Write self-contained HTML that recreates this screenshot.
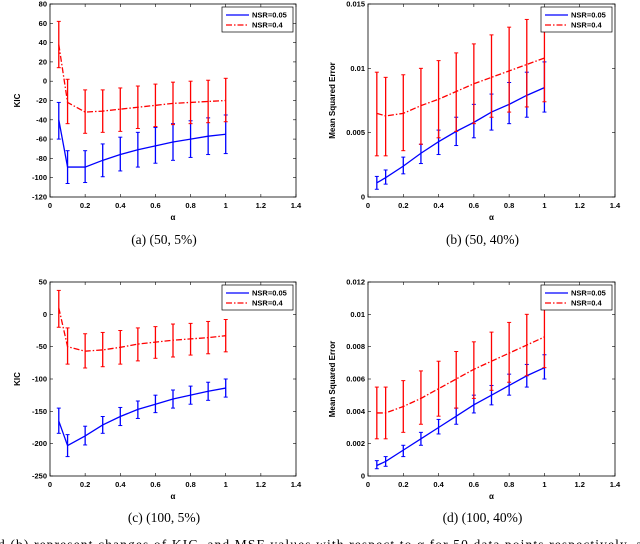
<!DOCTYPE html>
<html><head><meta charset="utf-8"><style>
html,body{margin:0;padding:0;background:#fff;width:640px;height:544px;overflow:hidden}
svg{display:block}
text{font-family:"Liberation Sans",Arial,sans-serif}
.cap{font-family:"Liberation Serif",serif;font-size:13.5px}
</style></head><body>
<svg id="fig" width="640" height="544" viewBox="0 0 640 544"></svg>
<script>
const alphas=[0.05,0.1,0.2,0.3,0.4,0.5,0.6,0.7,0.8,0.9,1.0];
const xTicks=[0,0.2,0.4,0.6,0.8,1,1.2,1.4];
const xTickLabels=['0','0.2','0.4','0.6','0.8','1','1.2','1.4'];
// (a)
const aBlueMean=[-40,-89,-89,-82,-76,-71,-67,-63,-60,-57,-55];
const aBlueHi=[-22,-72,-72,-65,-58,-53,-48,-44,-41,-38,-35];
const aBlueLo=[-60,-106,-105,-99,-93,-89,-85,-82,-79,-76,-75];
const aRedMean=[38,-22,-32,-31,-29,-27,-25,-23,-22,-21,-20];
const aRedHi=[62,2,-9,-9,-7,-5,-3,-1,0,1,3];
const aRedLo=[14,-44,-54,-53,-52,-49,-47,-45,-44,-43,-42];
const aYTicks=[80,60,40,20,0,-20,-40,-60,-80,-100,-120];
// (b)
const bBlueMean=[.0011,.0015,.0024,.0034,.0043,.0051,.0058,.0066,.0072,.0079,.0085];
const bBlueHi=[.0016,.0021,.0031,.0041,.0052,.0062,.0072,.0080,.0089,.0097,.0105];
const bBlueLo=[.0006,.0010,.0018,.0026,.0033,.0040,.0046,.0052,.0057,.0062,.0066];
const bRedMean=[.0065,.0063,.0065,.0071,.0076,.0082,.0088,.0093,.0098,.0103,.0108];
const bRedHi=[.0097,.0093,.0095,.0100,.0106,.0112,.0119,.0126,.0132,.0138,.0143];
const bRedLo=[.0032,.0032,.0036,.0041,.0046,.0051,.0057,.0062,.0066,.0070,.0074];
const bYTicks=[0.015,0.01,0.005,0];
const bYTickLabels=['0.015','0.01','0.005','0'];
// (c)
const cBlueMean=[-165,-203,-188,-171,-158,-147,-139,-131,-125,-119,-114];
const cBlueHi=[-145,-186,-173,-158,-144,-134,-125,-117,-111,-105,-100];
const cBlueLo=[-184,-220,-202,-184,-172,-161,-152,-145,-139,-133,-128];
const cRedMean=[10,-50,-57,-55,-51,-46,-43,-40,-38,-36,-33];
const cRedHi=[37,-21,-30,-28,-25,-21,-19,-15,-14,-11,-8];
const cRedLo=[-20,-77,-83,-81,-77,-72,-68,-66,-63,-61,-58];
const cYTicks=[50,0,-50,-100,-150,-200,-250];
// (d)
const dBlueMean=[.00065,.0009,.0016,.0023,.0030,.0037,.0044,.0050,.0056,.0062,.0067];
const dBlueHi=[.00095,.0012,.0019,.0027,.0035,.0042,.0050,.0056,.0063,.0069,.0075];
const dBlueLo=[.00045,.0006,.0012,.0019,.0026,.0032,.0039,.0044,.0050,.0055,.0060];
const dRedMean=[.0039,.0039,.0043,.0048,.0054,.0060,.0066,.0071,.0076,.0081,.0086];
const dRedHi=[.0055,.0055,.0059,.0065,.0071,.0077,.0083,.0089,.0095,.0100,.0107];
const dRedLo=[.0023,.0023,.0027,.0032,.0037,.0042,.0048,.0053,.0058,.0062,.0067];
const dYTicks=[0.012,0.01,0.008,0.006,0.004,0.002,0];
const dYTickLabels=['0.012','0.01','0.008','0.006','0.004','0.002','0'];

const NS='http://www.w3.org/2000/svg';
const svg=document.getElementById('fig');
function mk(tag,attrs,parent){const e=document.createElementNS(NS,tag);for(const k in attrs)e.setAttribute(k,attrs[k]);(parent||svg).appendChild(e);return e;}

function panel(id,box,ymin,ymax,yt,ytl,ylabel,series,caption,capY){
  const g=mk('g',{});
  
  
  const [L,T,R,B]=box;
  const sx=v=>L+(v-0)/(1.4)*(R-L);
  const sy=v=>B-(v-ymin)/(ymax-ymin)*(B-T);
  const clip=mk('clipPath',{id:'clip'+id},g);
  mk('rect',{x:L,y:T,width:R-L,height:B-T},clip);
  xTicks.forEach((v,i)=>{
    const x=sx(v);
    mk('line',{x1:x,y1:B,x2:x,y2:B-3,stroke:'#000','stroke-width':0.6},g);
    mk('line',{x1:x,y1:T,x2:x,y2:T+3,stroke:'#000','stroke-width':0.6},g);
    const t=mk('text',{x:x,y:B+11,'text-anchor':'middle','font-size':7.5,'font-weight':'bold'},g);
    t.textContent=xTickLabels[i];
    
    
  });
  yt.forEach((v,i)=>{
    const y=sy(v);
    mk('line',{x1:L,y1:y,x2:L+3,y2:y,stroke:'#000','stroke-width':0.6},g);
    mk('line',{x1:R,y1:y,x2:R-3,y2:y,stroke:'#000','stroke-width':0.6},g);
    const t=mk('text',{x:L-3,y:y+2.5,'text-anchor':'end','font-size':7.5,'font-weight':'bold'},g);
    t.textContent=ytl[i];
    
    
  });
  const xl=mk('text',{x:(L+R)/2,y:B+23,'text-anchor':'middle','font-size':8,'font-weight':'bold'},g);
  xl.textContent='α';
  
  
  const yx=L-(ylabel==='KIC'?30:33), ym=(T+B)/2;
  const yl=mk('text',{x:yx,y:ym,'text-anchor':'middle','font-size':8,'font-weight':'bold',transform:`rotate(-90 ${yx} ${ym})`},g);
  yl.textContent=ylabel;
  
  
  const pg=mk('g',{'clip-path':`url(#clip${id})`},g);
  series.forEach(s=>{
    const sg=mk('g',{},pg);
    
    
    s.hi.forEach((h,i)=>{
      const x=sx(alphas[i]);
      mk('line',{x1:x,y1:sy(h),x2:x,y2:sy(s.lo[i]),stroke:s.color,'stroke-width':1.3},sg);
      mk('line',{x1:x-2,y1:sy(h),x2:x+2,y2:sy(h),stroke:s.color,'stroke-width':1},sg);
      mk('line',{x1:x-2,y1:sy(s.lo[i]),x2:x+2,y2:sy(s.lo[i]),stroke:s.color,'stroke-width':1},sg);
    });
    const pts=s.mean.map((v,i)=>sx(alphas[i])+','+sy(v)).join(' ');
    const pl=mk('polyline',{points:pts,fill:'none',stroke:s.color,'stroke-width':1.3,'stroke-dasharray':s.dash||'none'},sg);
    
    
  });
  const fr=mk('rect',{x:L,y:T,width:R-L,height:B-T,fill:'none',stroke:'#000','stroke-width':0.8},g);
  
  
  const lg=mk('g',{},g);
  
  
  const lx=R-74,ly=T+3;
  mk('rect',{x:lx,y:ly,width:71,height:25,fill:'#fff',stroke:'#000','stroke-width':0.7},lg);
  series.forEach((s,i)=>{
    const yy=ly+8+i*10;
    mk('line',{x1:lx+4,y1:yy,x2:lx+27,y2:yy,stroke:s.color,'stroke-width':1.3,'stroke-dasharray':s.dash||'none'},lg);
    const t=mk('text',{x:lx+30,y:yy+2.7,'font-size':7.5,'font-weight':'bold'},lg);
    t.textContent=s.label;
    
    
  });
  const c=mk('text',{x:(L+R)/2-9,y:capY,'text-anchor':'middle',class:'cap'},g);
  c.textContent=caption;
  
  
}
const dash='6,2,1.5,2';
function S(bm,bh,bl,rm,rh,rl){return [
  {name:'nsr-0.05',label:'NSR=0.05',color:'#0000ff',mean:bm,hi:bh,lo:bl},
  {name:'nsr-0.4',label:'NSR=0.4',color:'#ff0000',mean:rm,hi:rh,lo:rl,dash:dash}];}
panel('a',[50,4,296,197],-120,80,aYTicks,aYTicks.map(String),'KIC',S(aBlueMean,aBlueHi,aBlueLo,aRedMean,aRedHi,aRedLo),'(a)  (50, 5%)',244);
panel('b',[368,4,615,197],0,0.015,bYTicks,bYTickLabels,'Mean Squared Error',S(bBlueMean,bBlueHi,bBlueLo,bRedMean,bRedHi,bRedLo),'(b)  (50, 40%)',244);
panel('c',[50,282,296,476],-250,50,cYTicks,cYTicks.map(String),'KIC',S(cBlueMean,cBlueHi,cBlueLo,cRedMean,cRedHi,cRedLo),'(c)  (100, 5%)',522);
panel('d',[368,282,615,476],0,0.012,dYTicks,dYTickLabels,'Mean Squared Error',S(dBlueMean,dBlueHi,dBlueLo,dRedMean,dRedHi,dRedLo),'(d)  (100, 40%)',522);
const bt=mk('text',{x:-2,y:549,class:'cap','font-size':14.5,textLength:644,lengthAdjust:'spacing'});
bt.textContent='d (b) represent changes of KIC, and MSE values with respect to α for 50 data points respectively, a';


</script>
</body></html>
